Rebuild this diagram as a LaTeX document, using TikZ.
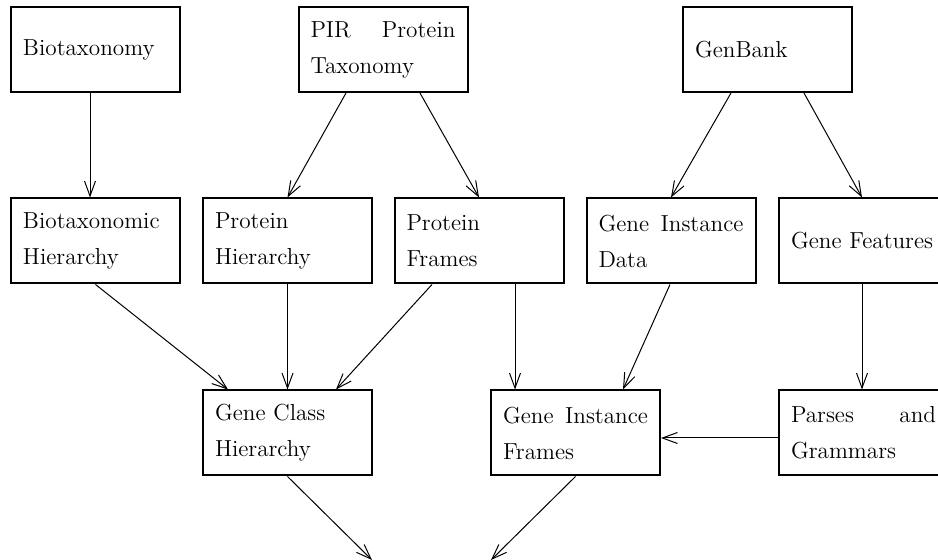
\documentclass[tikz,border=0pt]{standalone}
\usetikzlibrary{arrows.meta,calc}
\hbadness=10000
\hfuzz=20pt
\begin{document}
\begin{tikzpicture}[x=0.5pt,y=-0.5pt,
  box/.style={draw,line width=1pt,rectangle,minimum width=84.5pt,minimum height=42.5pt,
    inner xsep=6pt,inner ysep=0pt,text width=72.5pt,align=left,
    font=\fontsize{11.6}{18}\selectfont},
  arr/.style={line width=0.5pt,-{Straight Barb[length=7.5pt,width=5.5pt,line width=0.5pt]}}]
\clip (0,0) rectangle (938,560);
\node[box] (bio)  at (95.5,49.5) {Biotaxonomy};
\node[box] (pir)  at (383,49.5) {PIR\hfill Protein\\Taxonomy};
\node[box] (gen)  at (767.5,49.5) {GenBank};
\node[box] (bh)   at (95.5,241) {Biotaxonomic\\Hierarchy};
\node[box] (ph)   at (287.5,241) {Protein\\Hierarchy};
\node[box] (pf)   at (479,241) {Protein\\Frames};
\node[box] (gid)  at (671,241) {Gene\hfill Instance\\Data};
\node[box] (gf)   at (863.5,241) {Gene Features};
\node[box] (gch)  at (287.5,433) {Gene Class\\Hierarchy};
\node[box] (gif)  at (575.5,433) {Gene\hfill Instance\\Frames};
\node[box] (pg)   at (863.5,433) {Parses\hfill and\\Grammars};
\coordinate (endA) at (372,560);
\coordinate (endB) at (491,560);
\draw[arr] ($(bio.south)+(-5.5,0)$) -- ($(bh.north)+(-5.5,0)$);
\draw[arr] ($(pir.south)+(-37,0)$) -- (ph.north);
\draw[arr] ($(pir.south)+(37,0)$) -- (pf.north);
\draw[arr] ($(gen.south)+(-36.5,0)$) -- (gid.north);
\draw[arr] ($(gen.south)+(36.5,0)$) -- ($(gf.north)+(-1.5,0)$);
\draw[arr] (bh.south) -- ($(gch.north)+(-59.5,0)$);
\draw[arr] (ph.south) -- (gch.north);
\draw[arr] ($(pf.south)+(-47,0)$) -- ($(gch.north)+(48.5,0)$);
\draw[arr] ($(pf.south)+(36,0)$) -- ($(gif.north)+(-60.5,0)$);
\draw[arr] ($(gid.south)+(-1,0)$) -- ($(gif.north)+(47.5,0)$);
\draw[arr] ($(gf.south)+(-1.5,0)$) -- ($(pg.north)+(-1.5,0)$);
\draw[arr] ($(pg.west)+(0,5)$) -- ($(gif.east)+(0,5)$);
\draw[arr] (gch.south) -- (endA);
\draw[arr] (gif.south) -- (endB);
\end{tikzpicture}
\end{document}
